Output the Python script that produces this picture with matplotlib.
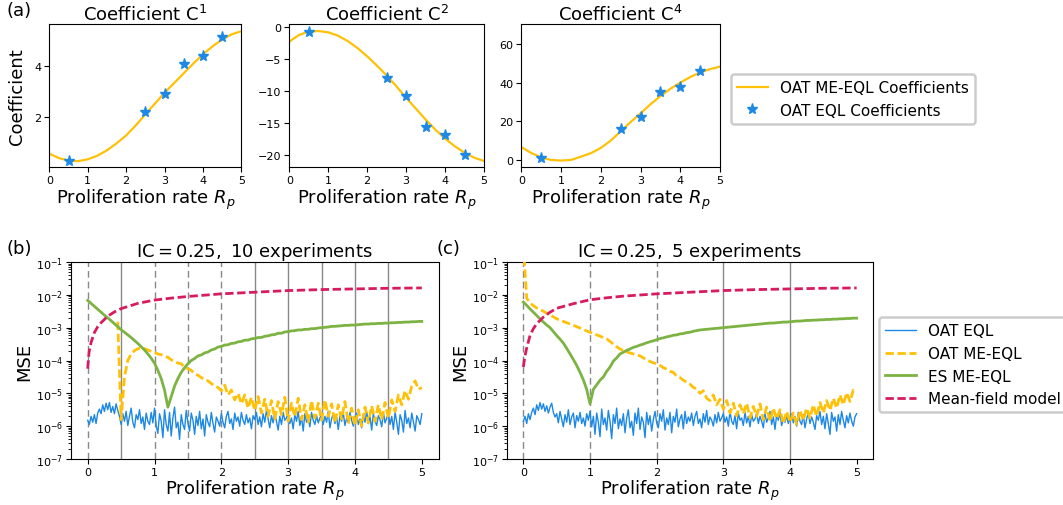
import numpy as np
import matplotlib
matplotlib.use('Agg')
import matplotlib.pyplot as plt

W, H = 1063, 506

# ---- panel (a): coefficients vs proliferation rate ----
coef_x = [0, 0.25, 0.5, 0.75, 1.0, 1.25, 1.5, 1.75, 2.0, 2.25, 2.5,
          2.75, 3.0, 3.25, 3.5, 3.75, 4.0, 4.25, 4.5, 4.75, 5.0]
c1_curve = [0.57, 0.40, 0.30, 0.28, 0.35, 0.49, 0.70, 0.97, 1.28, 1.67, 2.10,
            2.52, 2.94, 3.32, 3.70, 4.08, 4.44, 4.75, 5.02, 5.22, 5.34]
c2_curve = [-2.3, -1.25, -0.73, -0.63, -0.84, -1.36, -2.2, -3.3, -4.6, -6.06, -7.6,
            -9.3, -11.1, -12.8, -14.5, -16.1, -17.5, -18.7, -19.7, -20.5, -21.0]
c4_curve = [6.7, 3.6, 1.3, 0.0, -0.3, 0.0, 1.7, 3.5, 6.2, 10.0, 14.8,
            19.6, 24.1, 28.8, 33.0, 36.8, 40.0, 42.9, 45.3, 47.0, 48.3]

star_x = [0.5, 2.5, 3.0, 3.5, 4.0, 4.5]
c1_stars = [0.30, 2.19, 2.90, 4.05, 4.36, 5.13]
c2_stars = [-0.84, -8.0, -10.8, -15.7, -16.9, -20.1]
c4_stars = [0.9, 16.0, 22.2, 35.3, 37.6, 45.9]

# ---- panels (b), (c): log10 MSE vs proliferation rate ----
rp = np.round(np.arange(0, 5.001, 0.05), 2)
rp_fine = np.round(np.arange(0, 5.0001, 0.025), 3)

blue_b = [-5.82, -5.95, -5.70, -5.88, -5.65, -5.92, -5.60, -5.48, -5.62, -5.35,
          -5.55, -5.30, -5.50, -5.28, -5.58, -5.40, -5.62, -5.32, -5.52, -5.70,
          -5.95, -5.62, -5.85, -5.55, -5.98, -5.70, -5.45, -5.88, -6.05, -5.65,
          -5.80, -5.50, -5.92, -5.72, -6.10, -5.60, -5.85, -5.95, -5.58, -5.90,
          -5.45, -5.98, -6.22, -5.62, -5.85, -6.35, -5.50, -5.95, -6.15, -5.58,
          -6.30, -5.75, -5.42, -6.05, -5.88, -6.40, -5.65, -5.95, -6.10, -5.52,
          -5.90, -6.15, -5.60, -5.82, -6.25, -5.70, -5.98, -5.55, -6.08, -5.78,
          -6.30, -5.65, -5.88, -6.02, -5.58, -5.92, -6.18, -5.72, -5.85, -6.00,
          -5.62, -5.88, -6.05, -5.70, -5.55, -5.92, -5.78, -6.10, -5.60, -5.85,
          -5.72, -6.00, -5.58, -5.82, -5.95, -5.65, -5.90, -5.75, -6.08, -5.68,
          -5.80, -5.58, -5.95, -5.72, -6.02, -5.62, -5.88, -5.52, -5.78, -6.05,
          -5.68, -5.90, -5.60, -5.85, -6.12, -5.70, -5.95, -5.58, -5.82, -5.75,
          -5.60, -5.92, -5.75, -6.08, -5.65, -5.85, -5.55, -5.98, -5.72, -6.15,
          -5.62, -5.88, -5.78, -6.02, -5.58, -5.82, -5.95, -5.68, -5.90, -5.75,
          -5.65, -5.95, -5.70, -5.88, -5.55, -6.05, -5.78, -5.62, -5.92, -5.72,
          -6.10, -5.68, -5.85, -5.60, -5.98, -5.75, -5.88, -5.58, -5.82, -6.00,
          -5.72, -5.60, -5.95, -5.78, -6.05, -5.65, -5.88, -5.55, -5.92, -5.70,
          -6.12, -5.62, -5.85, -5.98, -5.68, -5.80, -6.02, -5.58, -5.90, -5.75,
          -5.62, -5.95, -5.70, -6.10, -5.58, -5.88, -6.25, -5.65, -5.82, -6.18,
          -5.52, -5.92, -5.75, -6.05, -5.60, -5.88, -6.15, -5.68, -5.80, -5.95,
          -5.62]
orange_b = [-2.82, -5.80, -4.50, -4.00, -3.80, -3.70, -3.64, -3.62, -3.64, -3.68, -3.72,
            -3.76, -3.80, -3.82, -3.88, -3.90, -3.98, -4.02, -4.08, -4.10, -4.20,
            -4.25, -4.30, -4.40, -4.45, -4.52, -4.58, -4.62, -4.70, -4.78, -4.82,
            -4.92, -4.75, -5.05, -4.90, -5.20, -5.00, -5.32, -5.05, -5.45, -5.12,
            -5.52, -5.10, -5.60, -5.18, -5.70, -5.22, -5.78, -5.25, -5.65, -5.12,
            -5.85, -5.30, -5.72, -5.15, -5.80, -5.35, -5.88, -5.22, -5.75, -5.30,
            -5.82, -5.20, -5.70, -5.32, -5.90, -5.35, -5.78, -5.25, -5.92, -5.45,
            -5.98, -5.50, -6.00, -5.42, -5.90, -5.38, -5.85, -5.35, -5.80, -5.28,
            -5.75, -5.20, -5.55, -5.05, -5.35, -4.92, -5.18, -4.78, -4.62, -4.88,
            -4.82]
green_b = [-2.17, -2.26, -2.35, -2.44, -2.53, -2.62, -2.70, -2.79, -2.88, -2.97,
           -3.06, -3.14, -3.22, -3.30, -3.39, -3.48, -3.58, -3.68, -3.80, -3.93,
           -4.08, -4.30, -4.55, -4.90, -5.42, -5.10, -4.78, -4.55, -4.36, -4.22,
           -4.10, -4.00, -3.94, -3.86, -3.83, -3.77, -3.74, -3.68, -3.65, -3.59,
           -3.57, -3.53, -3.52, -3.48, -3.47, -3.43, -3.42, -3.38, -3.38, -3.34,
           -3.33, -3.30, -3.30, -3.26, -3.25, -3.22, -3.21, -3.17, -3.17, -3.13,
           -3.12, -3.10, -3.09, -3.07, -3.07, -3.05, -3.05, -3.03, -3.03, -3.01,
           -3.00, -2.99, -2.98, -2.96, -2.96, -2.95, -2.94, -2.93, -2.93, -2.92,
           -2.92, -2.91, -2.90, -2.89, -2.89, -2.88, -2.88, -2.87, -2.87, -2.86,
           -2.86, -2.85, -2.85, -2.84, -2.84, -2.83, -2.83, -2.82, -2.82, -2.81,
           -2.81]
pink_x = [0, 0.02, 0.05, 0.1, 0.15, 0.2, 0.3, 0.4, 0.5, 0.75, 1.0,
          1.25, 1.5, 2.0, 2.5, 3.0, 3.5, 4.0, 4.5, 5.0]
pink_b = [-4.25, -3.75, -3.45, -3.15, -2.97, -2.85, -2.65, -2.52, -2.42, -2.26, -2.16,
          -2.10, -2.05, -1.97, -1.92, -1.87, -1.84, -1.82, -1.80, -1.79]

blue_c = [-5.85, -5.70, -5.92, -5.62, -5.80, -5.58, -5.45, -5.65, -5.35, -5.52,
          -5.28, -5.48, -5.32, -5.55, -5.38, -5.60, -5.42, -5.30, -5.58, -5.72,
          -5.62, -5.90, -5.55, -5.78, -6.02, -5.65, -5.88, -5.50, -5.95, -5.72,
          -5.60, -6.05, -5.68, -5.85, -5.58, -5.92, -5.75, -6.00, -5.62, -5.82,
          -5.55, -6.02, -5.70, -6.25, -5.60, -5.88, -6.32, -5.48, -5.95, -5.75,
          -6.12, -5.52, -5.85, -6.38, -5.65, -5.92, -5.45, -6.08, -5.78, -5.98,
          -5.62, -6.20, -5.75, -5.50, -6.05, -5.85, -6.28, -5.60, -5.92, -5.45,
          -6.10, -5.72, -5.88, -6.35, -5.58, -5.95, -5.68, -6.15, -5.80, -5.55,
          -5.90, -6.05, -5.62, -5.85, -5.50, -6.12, -5.75, -5.95, -5.58, -6.20,
          -5.70, -5.88, -5.48, -6.02, -5.78, -5.65, -6.08, -5.55, -5.92, -5.72,
          -5.85, -5.60, -5.98, -5.70, -5.55, -5.92, -5.78, -6.05, -5.62, -5.88,
          -5.52, -5.95, -5.72, -5.82, -6.00, -5.65, -5.90, -5.58, -5.85, -5.75,
          -5.62, -5.88, -5.72, -6.00, -5.55, -5.85, -5.95, -5.68, -6.08, -5.60,
          -5.82, -5.75, -5.98, -5.58, -5.90, -5.70, -6.02, -5.65, -5.85, -5.78,
          -5.60, -5.92, -5.70, -5.85, -6.05, -5.62, -5.88, -5.75, -5.55, -5.95,
          -5.72, -6.10, -5.65, -5.82, -5.58, -5.98, -5.78, -5.88, -5.68, -5.92,
          -5.75, -5.62, -5.90, -5.70, -6.00, -5.58, -5.85, -5.95, -5.65, -6.05,
          -5.78, -5.60, -5.92, -5.72, -5.88, -6.10, -5.68, -5.82, -5.55, -5.95,
          -5.70, -6.08, -5.62, -5.92, -6.25, -5.58, -5.85, -5.72, -6.15, -5.65,
          -5.95, -5.55, -5.82, -6.05, -5.68, -5.90, -5.60, -5.85, -6.00, -5.72,
          -5.62]
orange_c = [-0.50, -2.10, -2.25, -2.33, -2.40, -2.45, -2.50, -2.56, -2.62, -2.67,
            -2.73, -2.77, -2.81, -2.85, -2.89, -2.93, -2.97, -3.01, -3.05, -3.10,
            -3.14, -3.18, -3.22, -3.26, -3.30, -3.34, -3.42, -3.50, -3.58, -3.65,
            -3.70, -3.74, -3.77, -3.80, -3.83, -3.86, -3.92, -3.98, -4.03, -4.07,
            -4.10, -4.15, -4.22, -4.26, -4.33, -4.36, -4.48, -4.52, -4.60, -4.66,
            -4.72, -4.82, -4.86, -5.00, -4.92, -5.15, -5.22, -5.05, -5.35, -5.18,
            -5.48, -5.22, -5.60, -5.30, -5.68, -5.35, -5.62, -5.30, -5.75, -5.40,
            -5.70, -5.32, -5.80, -5.42, -5.85, -5.45, -5.78, -5.50, -5.92, -5.55,
            -5.88, -5.60, -5.95, -5.52, -5.82, -5.45, -5.75, -5.35, -5.70, -5.28,
            -5.60, -5.22, -5.52, -5.15, -5.45, -5.05, -5.35, -4.98, -5.25, -4.90,
            -4.95]
green_c = [-2.22, -2.32, -2.43, -2.53, -2.63, -2.73, -2.83, -2.92, -3.00, -3.12,
           -3.24, -3.35, -3.47, -3.63, -3.80, -3.97, -4.15, -4.36, -4.59, -4.88,
           -5.32, -4.88, -4.74, -4.60, -4.50, -4.33, -4.20, -4.02, -3.92, -3.80,
           -3.75, -3.69, -3.65, -3.60, -3.57, -3.53, -3.50, -3.46, -3.43, -3.40,
           -3.37, -3.33, -3.31, -3.28, -3.26, -3.23, -3.22, -3.19, -3.18, -3.15,
           -3.14, -3.11, -3.09, -3.07, -3.06, -3.05, -3.04, -3.03, -3.02, -3.01,
           -3.00, -2.99, -2.98, -2.97, -2.96, -2.95, -2.94, -2.93, -2.92, -2.91,
           -2.90, -2.89, -2.88, -2.87, -2.86, -2.86, -2.85, -2.84, -2.83, -2.83,
           -2.82, -2.81, -2.80, -2.80, -2.79, -2.78, -2.78, -2.77, -2.77, -2.76,
           -2.76, -2.75, -2.75, -2.74, -2.74, -2.73, -2.73, -2.72, -2.72, -2.71,
           -2.71]
pink_c = [-4.20, -3.90, -3.62, -3.24, -3.03, -2.88, -2.68, -2.53, -2.41, -2.27, -2.15,
          -2.09, -2.04, -1.97, -1.92, -1.87, -1.84, -1.82, -1.80, -1.79]

vdash_b = [0, 1, 1.5, 2]
vsolid_b = [0.5, 2.5, 3, 3.5, 4, 4.5]
vdash_c = [0, 1, 2]
vsolid_c = [3, 4]

YELLOW = '#FFC107'
BLUE = '#1E88E5'
GREEN = '#7CB342'
PINK = '#D81B60'

fig = plt.figure(figsize=(W / 100, H / 100), dpi=100)


def px_axes(l, t, r, b):
    return fig.add_axes([l / W, 1 - b / H, (r - l) / W, (b - t) / H])


xlab = r'Proliferation rate $R_p$'

# top row
tops = [
    (px_axes(49.3, 25.3, 241.3, 168.3), c1_curve, c1_stars, r'Coefficient C$^1$', (0.04, 5.61), [2, 4]),
    (px_axes(289.3, 25.3, 484, 168.3), c2_curve, c2_stars, r'Coefficient C$^2$', (-22.0, 0.42), [0, -5, -10, -15, -20]),
    (px_axes(521.3, 25.3, 720, 168.3), c4_curve, c4_stars, r'Coefficient C$^4$', (-3.8, 70.2), [0, 20, 40, 60]),
]
for ax, curve, stars, title, ylim, yt in tops:
    ax.plot(coef_x, curve, color=YELLOW, lw=1.6, label='OAT ME-EQL Coefficients')
    ax.plot(star_x, stars, ls='none', marker='*', ms=8, color=BLUE, label='OAT EQL Coefficients')
    ax.set_xlim(0, 5)
    ax.set_ylim(*ylim)
    ax.set_yticks(yt)
    ax.set_xticks([0, 1, 2, 3, 4, 5])
    ax.tick_params(labelsize=8, pad=2)
    ax.set_title(title, fontsize=13, pad=3)
    ax.set_xlabel(xlab, fontsize=13, labelpad=1)
tops[0][0].set_ylabel('Coefficient', fontsize=13, labelpad=6)

h, l = tops[0][0].get_legend_handles_labels()
fig.legend(h, l, loc='upper left', bbox_to_anchor=(731 / W, 1 - 75 / H), borderaxespad=0,
           fontsize=11, edgecolor='#cccccc', framealpha=1).get_frame().set_linewidth(1.8)

# bottom row
bots = [
    (px_axes(71, 263, 438.5, 460), blue_b, orange_b, green_b, pink_b, vdash_b, vsolid_b,
     r'$\mathrm{IC} = 0.25,\ 10$ experiments'),
    (px_axes(506.7, 263, 873.3, 460), blue_c, orange_c, green_c, pink_c, vdash_c, vsolid_c,
     r'$\mathrm{IC} = 0.25,\ 5$ experiments'),
]
for ax, bl, orr, gr, pk, vd, vs, title in bots:
    for v in vd:
        ax.axvline(v, color='#888888', lw=1, dashes=(4.8, 2.9), zorder=1)
    for v in vs:
        ax.axvline(v, color='#888888', lw=1, zorder=1)
    ax.plot(rp_fine, 10.0 ** np.array(bl), color=BLUE, lw=1, label='OAT EQL', zorder=2)
    ax.plot(rp[len(rp) - len(orr):], 10.0 ** np.array(orr), color=YELLOW, lw=2,
            dashes=(3, 1.3), label='OAT ME-EQL', zorder=3)
    ax.plot(rp, 10.0 ** np.array(gr), color=GREEN, lw=2, label='ES ME-EQL', zorder=4)
    ax.plot(pink_x, 10.0 ** np.array(pk), color=PINK, lw=2, dashes=(3, 1.3),
            label='Mean-field model', zorder=5)
    ax.set_yscale('log')
    ax.set_ylim(1e-7, 1e-1)
    ax.set_xlim(-0.25, 5.25)
    ax.set_yticks([10.0 ** k for k in range(-7, 0)])
    ax.set_xticks([0, 1, 2, 3, 4, 5])
    ax.tick_params(labelsize=8, pad=2)
    ax.set_title(title, fontsize=13, pad=3)
    ax.set_xlabel(xlab, fontsize=13, labelpad=1)
    ax.set_ylabel('MSE', fontsize=13, labelpad=2)

h, l = bots[1][0].get_legend_handles_labels()
fig.legend(h, l, loc='upper left', bbox_to_anchor=(879.3 / W, 1 - 318.3 / H), borderaxespad=0,
           fontsize=11, edgecolor='#cccccc', framealpha=1).get_frame().set_linewidth(1.8)

fig.text(7 / W, 1 - 11 / H, '(a)', fontsize=13, va='center', ha='left')
fig.text(7 / W, 1 - 249 / H, '(b)', fontsize=13, va='center', ha='left')
fig.text(437 / W, 1 - 249 / H, '(c)', fontsize=13, va='center', ha='left')

fig.savefig('out.png', dpi=100)
